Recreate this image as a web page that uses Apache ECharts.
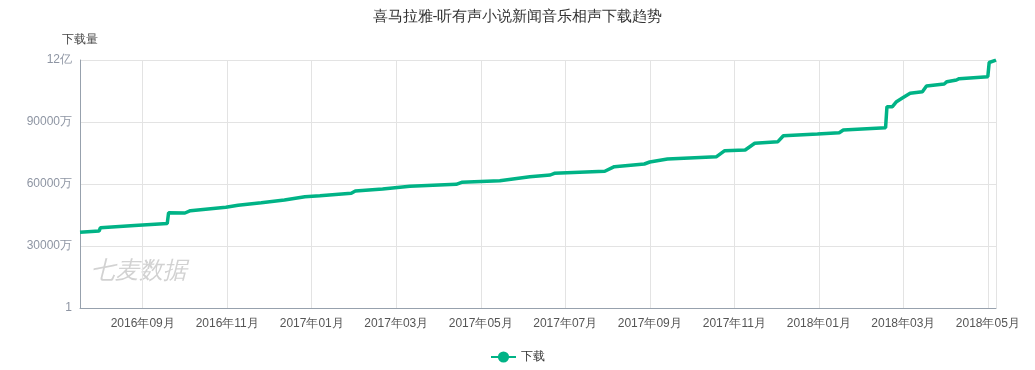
<!DOCTYPE html>
<html>
<head>
<meta charset="utf-8">
<script src="https://cdn.jsdelivr.net/npm/echarts@6/dist/echarts.min.js"></script>
<style>
html,body{margin:0;padding:0;background:#fff;}
#chart{width:1035px;height:370px;}
</style>
</head>
<body>
<div id="chart"></div>
<script>
var titleText = '喜马拉雅-听有声小说新闻音乐相声下载趋势';
var seriesName = '下载';
var yAxisName = '下载量';
var watermark = '七麦数据';

var dates = [
  '2016-07-22','2016-08-05','2016-08-06','2016-08-31','2016-09-24','2016-09-25','2016-10-07','2016-10-11',
  '2016-11-06','2016-11-15','2016-12-02','2016-12-19','2017-01-03','2017-01-14','2017-02-06','2017-02-09',
  '2017-03-01','2017-03-21','2017-04-24','2017-04-28','2017-05-26','2017-06-17','2017-07-02','2017-07-05',
  '2017-08-11','2017-08-18','2017-09-09','2017-09-13','2017-09-26','2017-11-01','2017-11-07','2017-11-22',
  '2017-11-29','2017-12-16','2017-12-20','2018-01-14','2018-01-30','2018-02-02','2018-03-05','2018-03-06',
  '2018-03-10','2018-03-13','2018-03-17','2018-03-23','2018-04-01','2018-04-04','2018-04-17','2018-04-19',
  '2018-04-26','2018-04-28','2018-05-19','2018-05-20','2018-05-25'
];
var downloads = [
  366300000,372600000,388500000,399200000,408900000,461100000,459700000,470800000,
  487300000,496900000,509500000,522600000,538500000,543400000,555000000,566100000,
  575800000,588900000,598500000,608200000,616000000,635300000,643500000,651800000,
  661500000,683700000,696800000,706500000,721000000,732100000,761100000,764500000,
  796900000,804700000,833700000,841900000,848200000,861300000,872400000,974000000,
  974000000,998200000,1014700000,1038900000,1046600000,1074200000,1083900000,1095000000,
  1103200000,1109500000,1119200000,1188000000,1199000000
];

var DAY = 86400000;
var data = dates.map(function (d, i) { return [Date.parse(d), downloads[i]]; });

function pad(n) { return n < 10 ? '0' + n : '' + n; }

var chart = echarts.init(document.getElementById('chart'));
chart.setOption({
  animation: false,
  backgroundColor: '#fff',
  title: {
    text: titleText,
    left: 'center',
    top: 4,
    textStyle: { fontSize: 15, fontWeight: 'normal', color: '#333' }
  },
  legend: {
    bottom: 2,
    left: 'center',
    itemWidth: 25,
    itemHeight: 14,
    textStyle: { color: '#333', fontSize: 12 },
    data: [seriesName]
  },
  graphic: [{
    type: 'text',
    left: 91,
    top: 259,
    style: {
      text: watermark,
      fontSize: 24,
      fontStyle: 'italic',
      fill: '#d2d2d2'
    }
  }],
  grid: { left: 80, right: 39, top: 60, bottom: 62 },
  xAxis: {
    type: 'value',
    min: 'dataMin',
    max: 'dataMax',
    minInterval: 62 * DAY,
    maxInterval: 62 * DAY,
    axisLine: { lineStyle: { color: '#97a1ad' } },
    axisTick: { show: false },
    splitLine: { show: true, lineStyle: { color: '#e3e3e3' } },
    axisLabel: {
      showMinLabel: false,
      showMaxLabel: false,
      color: '#555',
      fontSize: 12,
      margin: 10,
      formatter: function (v) {
        var d = new Date(v);
        return d.getUTCFullYear() + '年' + pad(d.getUTCMonth() + 1) + '月';
      }
    }
  },
  yAxis: {
    type: 'value',
    name: yAxisName,
    nameGap: 14,
    nameTextStyle: { color: '#444', fontSize: 12, align: 'center' },
    min: 0,
    max: 1200000000,
    interval: 300000000,
    axisLine: { show: true, lineStyle: { color: '#97a1ad' } },
    axisTick: { show: false },
    splitLine: { lineStyle: { color: '#e3e3e3' } },
    axisLabel: {
      color: '#8e95a3',
      fontSize: 12,
      margin: 8,
      formatter: function (v) {
        if (v === 0) return '1';
        if (v >= 1000000000) return (v / 100000000) + '亿';
        return (v / 10000) + '万';
      }
    }
  },
  series: [{
    name: seriesName,
    type: 'line',
    data: data,
    symbol: 'circle',
    symbolSize: 8,
    showSymbol: false,
    itemStyle: { color: '#00b386' },
    lineStyle: { width: 3.5, color: '#00b386' }
  }]
});
</script>
</body>
</html>
